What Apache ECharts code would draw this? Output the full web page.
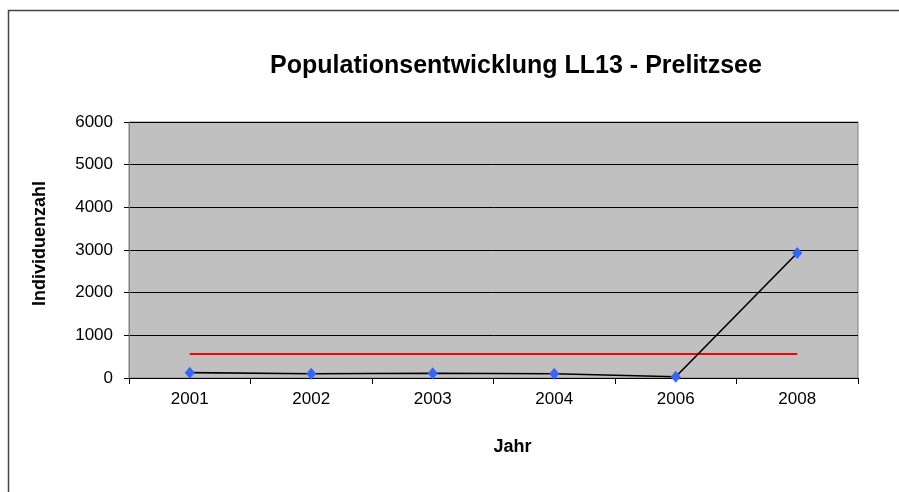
<html>
<head>
<meta charset="UTF-8">
<script src="https://cdn.jsdelivr.net/npm/echarts@6/dist/echarts.min.js"></script>
<style type="text/css">
html,body{margin:0;padding:0;background:#fff;}
#chart{width:899px;height:492px;}
</style>
</head>
<body>
<div id="chart"></div>
<script type="text/javascript">
var jahre=["2001","2002","2003","2004","2006","2008"];//Kategorien
var individuen=[125,100,110,100,30,2930];//Individuenzahl
var mittelwert=[560,560,560,560,560,560];//rote Linie
var yTicks=[0,1000,2000,3000,4000,5000,6000];

var myChart=echarts.init(document.getElementById("chart"));
var option={
	animation:false,
	backgroundColor:'#fff',
	textStyle:{fontFamily:'"Liberation Sans", Arial, sans-serif'},
	graphic:[{
		type:'rect',
		shape:{x:8.5,y:10.5,width:1000,height:1000},
		style:{fill:'none',stroke:'#444',lineWidth:1.5},
		silent:true
	}],
	title:{
		text:'Populationsentwicklung LL13 - Prelitzsee',
		left:511,top:49,textAlign:'center',
		textStyle:{fontSize:25,fontWeight:'bold',color:'#000',fontFamily:'"Liberation Sans", Arial, sans-serif'}
	},
	grid:{left:129,right:41,top:122,bottom:114,show:true,backgroundColor:'#C0C0C0',borderColor:'#808080',borderWidth:1},
	xAxis:{
		type:'category',
		data:jahre,
		boundaryGap:true,
		name:'Jahr',
		nameLocation:'middle',
		nameGap:60,
		nameTextStyle:{fontSize:18,fontWeight:'bold',color:'#000',padding:[0,0,0,38]},
		axisLine:{lineStyle:{color:'#000',width:1}},
		axisTick:{show:true,length:6,lineStyle:{color:'#000'}},
		axisLabel:{fontSize:17,color:'#000',margin:13}
	},
	yAxis:{
		type:'value',
		min:yTicks[0],max:yTicks[yTicks.length-1],interval:1000,
		name:'Individuenzahl',
		nameLocation:'middle',
		nameGap:80,
		nameTextStyle:{fontSize:18,fontWeight:'bold',color:'#000',padding:[0,0,0,13]},
		axisLine:{show:true,lineStyle:{color:'#808080',width:1}},
		axisTick:{show:true,length:5,lineStyle:{color:'#000'}},
		axisLabel:{fontSize:17,color:'#000',margin:16,formatter:function(v){return String(v);}},
		splitLine:{show:true,lineStyle:{color:'#000',width:1}}
	},
	series:[
		{
			type:'line',
			data:individuen,
			symbol:'diamond',
			symbolSize:[10,12],
			itemStyle:{color:'#3366FF'},
			lineStyle:{color:'#000',width:1.6},
			z:3
		},
		{
			type:'line',
			data:mittelwert,
			symbol:'none',
			lineStyle:{color:'#FF0000',width:2},
			z:2
		}
	]
};
myChart.setOption(option);
</script>
</body>
</html>
